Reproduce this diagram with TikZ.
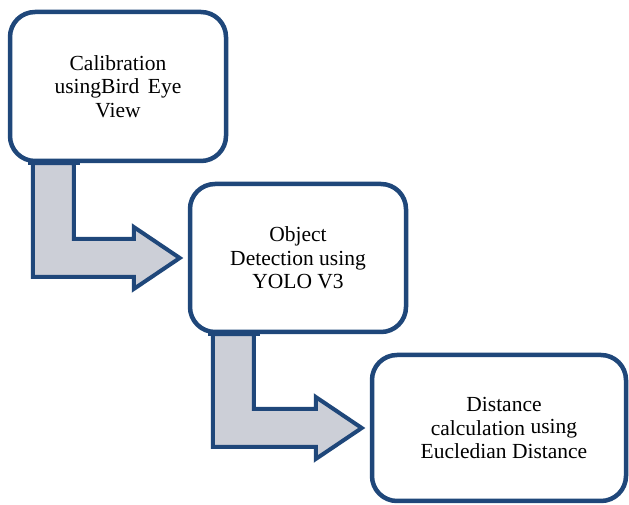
\documentclass[tikz,border=0pt]{standalone}
\usepackage{fontspec}
\setmainfont{Liberation Serif}
\usetikzlibrary{calc}
\definecolor{boxblue}{RGB}{31,71,122}
\definecolor{arrowgray}{RGB}{204,207,215}

\begin{document}
\begin{tikzpicture}[x=1pt, y=1pt,
    procbox/.style ={draw=boxblue, line width=4.5pt, rounded corners=25pt, fill=white,
                     inner sep=0pt, align=center, font=\fontsize{21.5}{23.5}\selectfont},
    blockarrow/.style ={draw=boxblue, line width=4pt, fill=arrowgray, line join=miter}]
   \useasboundingbox (0,0) rectangle (629,505);

   % the three steps
   \node[procbox, minimum width=216pt, minimum height=149pt] (calib)  at (118,418.5)
        {Calibration\\usingBird\hspace{0.4em}Eye\\View};
   \node[procbox, minimum width=216pt, minimum height=148pt] (detect) at (298,247)
        {Object\\Detection using\\YOLO V3};
   \node[procbox, minimum width=254pt, minimum height=146pt] (dist)   at (499,77)
        {\hspace*{10pt}Distance\\\hspace*{10pt}calculation \raisebox{2pt}{using}\\\hspace*{10pt}Eucledian Distance};

   % bent arrows between the steps
   \foreach \from/\to in {calib/detect, detect/dist}
     \draw[blockarrow] let \p1 = (\from.south west), \p2 = (\to.west) in
        (\x1+25,\y1) -- (\x1+66,\y1) -- (\x1+66,\y2+19) -- (\x2-54,\y2+19)
        -- (\x2-54,\y2+31) -- (\x2-8,\y2) -- (\x2-54,\y2-31) -- (\x2-54,\y2-19)
        -- (\x1+25,\y2-19) -- cycle;

   % redraw the step borders over the arrow ends
   \foreach \n in {calib, detect}
     \draw[boxblue, line width=4.5pt] ($(\n.south west)+(20,0)$) -- ($(\n.south west)+(72,0)$);
 \end{tikzpicture}
\end{document}
